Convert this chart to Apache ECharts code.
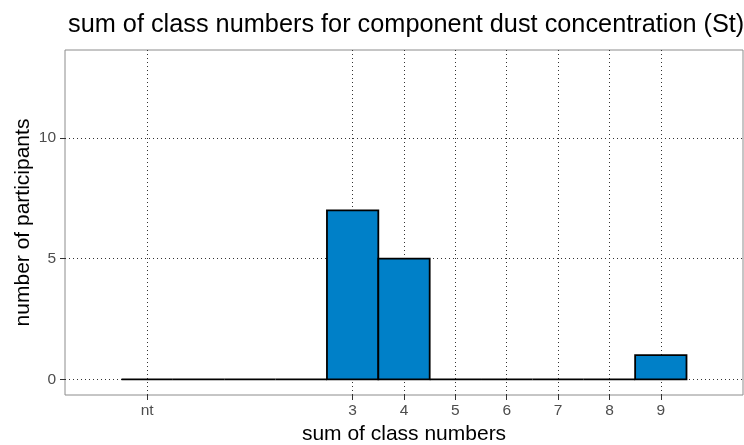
<!DOCTYPE html>
<html><head><meta charset="utf-8">
<script src="https://cdn.jsdelivr.net/npm/echarts@6/dist/echarts.min.js"></script>
<style>html,body{margin:0;padding:0;background:#fff}#c{width:744px;height:445px}</style>
</head><body><div id="c"></div>
<script>
const binCenters = [-1, 0, 1, 2, 3, 4, 5, 6, 7, 8, 9];
const counts = [0, 0, 0, 0, 7, 5, 0, 0, 0, 0, 1];
const xTickValues = [-1, 3, 4, 5, 6, 7, 8, 9];
const xTickLabels = ['nt', '3', '4', '5', '6', '7', '8', '9'];
const yTickValues = [0, 5, 10];

const FONT = 'Liberation Sans, Arial, sans-serif';
const chart = echarts.init(document.getElementById('c'), null, {renderer: 'canvas'});
const labelMap = {};
xTickValues.forEach((v, i) => labelMap[v] = xTickLabels[i]);

chart.setOption({
  animation: false,
  title: {
    text: 'sum of class numbers for component dust concentration (St)',
    left: 63, top: 8,
    textStyle: {fontFamily: FONT, fontSize: 25.3, fontWeight: 'normal', color: '#000'}
  },
  grid: {left: 65, right: 1, top: 50, bottom: 50, outerBoundsMode: 'none', containLabel: false,
    show: true, borderColor: '#8c8c8c', borderWidth: 1, backgroundColor: 'transparent'},
  xAxis: {
    type: 'value', min: -2.6, max: 10.6,
    name: 'sum of class numbers', nameLocation: 'middle', nameGap: 28,
    nameTextStyle: {fontFamily: FONT, fontSize: 21, color: '#000'},
    axisLine: {show: false, onZero: false},
    axisTick: {show: true, length: 5, customValues: xTickValues, lineStyle: {color: '#333', width: 1}},
    axisLabel: {customValues: xTickValues, formatter: v => labelMap[v] !== undefined ? labelMap[v] : '', fontFamily: FONT, fontSize: 15.5, color: '#4d4d4d', margin: 8},
    splitLine: {show: true, lineStyle: {type: [1, 3], color: '#333', width: 1}}
  },
  yAxis: {
    type: 'value', min: -0.65, max: 13.65,
    name: 'number of participants', nameLocation: 'middle', nameGap: 31, nameMoveOverlap: false,
    nameTextStyle: {fontFamily: FONT, fontSize: 21, color: '#000'},
    axisLine: {show: false, onZero: false},
    axisTick: {show: true, length: 5, customValues: yTickValues, lineStyle: {color: '#333', width: 1}},
    axisLabel: {customValues: yTickValues, fontFamily: FONT, fontSize: 15.5, color: '#4d4d4d', margin: 9},
    splitLine: {show: true, lineStyle: {type: [1, 3], color: '#333', width: 1}}
  },
  series: [{
    type: 'custom',
    data: binCenters.map((x, i) => [x, counts[i]]),
    encode: {x: 0, y: 1},
    renderItem: function (params, api) {
      const x = api.value(0), y = api.value(1);
      const p0 = api.coord([x - 0.5, y]);
      const p1 = api.coord([x + 0.5, 0]);
      if (y === 0) {
        return {type: 'line', shape: {x1: p0[0], y1: p1[1], x2: p1[0], y2: p1[1]},
          style: {stroke: '#000', lineWidth: 1.8}};
      }
      return {type: 'rect', shape: {x: p0[0], y: p0[1], width: p1[0] - p0[0], height: p1[1] - p0[1]},
        style: {fill: '#0080c8', stroke: '#000', lineWidth: 1.8}};
    }
  }]
});
</script></body></html>
